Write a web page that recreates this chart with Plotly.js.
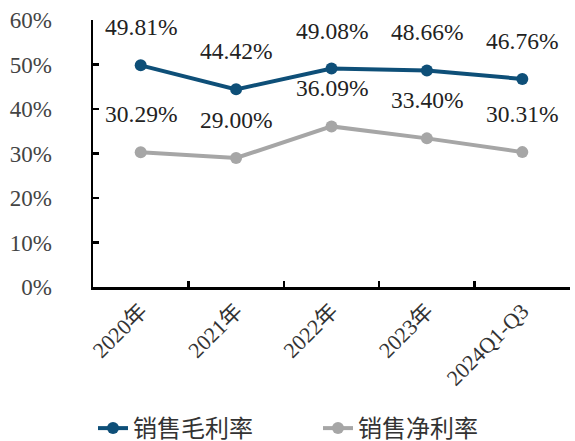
<!DOCTYPE html>
<html><head><meta charset="utf-8">
<script src="https://cdn.plot.ly/plotly-3.0.1.min.js"></script>
<style>html,body{margin:0;padding:0;background:#fff;}#chart{width:575px;height:441px;}</style>
</head><body><div id="chart"></div>
<script>
const categories = ['2020年','2021年','2022年','2023年','2024Q1-Q3'];
const grossMargin = [0.4981, 0.4442, 0.4908, 0.4866, 0.4676];
const netMargin = [0.3029, 0.2900, 0.3609, 0.3340, 0.3031];
const seriesNames = ['销售毛利率','销售净利率'];
const yTicks = [0,0.1,0.2,0.3,0.4,0.5,0.6];

const FONT = '"Liberation Serif","Noto Sans CJK SC",serif';
const blue = '#0e4f78', gray = '#a6a6a6';

const traces = [
  {x: categories, y: grossMargin, name: seriesNames[0], type:'scatter', mode:'lines+markers',
   line:{color:blue,width:4}, marker:{color:blue,size:12}},
  {x: categories, y: netMargin, name: seriesNames[1], type:'scatter', mode:'lines+markers',
   line:{color:gray,width:4}, marker:{color:gray,size:12}}
];

const annotations = [];
[grossMargin, netMargin].forEach(arr => arr.forEach((v,i) => {
  annotations.push({x: categories[i], y: v, xref:'x', yref:'y', text:(v*100).toFixed(2)+'%',
    showarrow:false, yshift:38, font:{family:FONT,size:23.5,color:'#222'}});
}));

const layout = {
  width:575, height:441,
  margin:{l:93,r:5,t:20,b:154, autoexpand:false},
  paper_bgcolor:'#fff', plot_bgcolor:'#fff',
  font:{family:FONT,size:20,color:'#333'},
  showlegend:true,
  legend:{orientation:'h', x:0, xanchor:'left', y:-0.53, yanchor:'middle',
    font:{family:FONT,size:24,color:'#333'}, entrywidth:180, entrywidthmode:'pixels', tracegroupgap:0},
  xaxis:{type:'category', range:[-0.5,4.5], automargin:false, showline:true, linecolor:'#000', linewidth:2.5,
    ticks:'inside', tickson:'boundaries', ticklen:6, tickwidth:2.5, tickcolor:'#000',
    tickangle:-45, showgrid:false, zeroline:false, tickfont:{family:FONT,size:22,color:'#333'}},
  yaxis:{range:[0,0.6], automargin:false, tickvals:yTicks, tickformat:'.0%', showline:true, linecolor:'#000', linewidth:2.5,
    ticks:'inside', ticklen:6, tickwidth:2.5, tickcolor:'#000', showgrid:false, zeroline:false,
    ticklabelstandoff:34, tickfont:{family:FONT,size:23,color:'#444'}},
  annotations: annotations
};
Plotly.newPlot('chart', traces, layout, {displayModeBar:false, staticPlot:true});
</script></body></html>
